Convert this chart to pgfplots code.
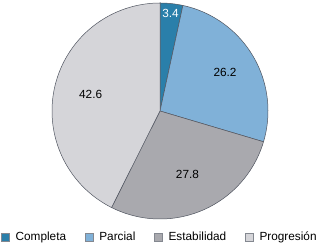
\documentclass[border=0pt]{standalone}
\usepackage{fontspec}
\setmainfont{Liberation Sans}
\usepackage{pgfplots}
\pgfplotsset{compat=1.18}
\definecolor{cA}{HTML}{2A7FAA}
\definecolor{cB}{HTML}{80B1D8}
\definecolor{cC}{HTML}{A9A9AE}
\definecolor{cD}{HTML}{D5D5D9}
\definecolor{edge}{HTML}{505560}
% values (percent)
\def\vA{3.4}\def\vB{26.2}\def\vC{27.8}\def\vD{42.6}
\pgfmathsetmacro\aA{90}
\pgfmathsetmacro\aB{\aA-3.6*\vA}
\pgfmathsetmacro\aC{\aB-3.6*\vB}
\pgfmathsetmacro\aD{\aC-3.6*\vC}
\pgfmathsetmacro\aE{\aD-3.6*\vD}
\pgfmathsetmacro\mA{(\aA+\aB)/2}
\pgfmathsetmacro\mB{(\aB+\aC)/2}
\pgfmathsetmacro\mC{(\aC+\aD)/2}
\pgfmathsetmacro\mD{(\aD+\aE)/2}
\def\cx{160}\def\cy{134}\def\R{108}
\begin{document}
\begin{tikzpicture}
\begin{axis}[
  x=1pt, y=1pt, anchor=origin, at={(0,0)},
  xmin=0, xmax=321, ymin=0, ymax=245,
  hide axis, clip=false,
  legend columns=4,
  legend style={at={(axis cs:159,8)}, anchor=center, draw=none, fill=none,
    font=\fontsize{11.8}{13}\selectfont, inner sep=0pt,
    /tikz/every odd column/.append style={column sep=6pt},
    /tikz/every even column/.append style={column sep=19pt},
    nodes={inner xsep=0pt}},
  legend image code/.code={\draw[#1, draw=edge!70, line width=0.4pt] (0pt,-3.9pt) rectangle (7.8pt,3.9pt);},
]
\addplot[fill=cA, draw=edge, line width=0.5pt, domain=\aB:\aA, samples=20]
  ({\cx+\R*cos(x)},{\cy+\R*sin(x)}) -- (axis cs:\cx,\cy) -- cycle;
\addlegendentry{Completa}
\addplot[fill=cB, draw=edge, line width=0.5pt, domain=\aC:\aB, samples=80]
  ({\cx+\R*cos(x)},{\cy+\R*sin(x)}) -- (axis cs:\cx,\cy) -- cycle;
\addlegendentry{Parcial}
\addplot[fill=cC, draw=edge, line width=0.5pt, domain=\aD:\aC, samples=80]
  ({\cx+\R*cos(x)},{\cy+\R*sin(x)}) -- (axis cs:\cx,\cy) -- cycle;
\addlegendentry{Estabilidad}
\addplot[fill=cD, draw=edge, line width=0.5pt, domain=\aE:\aD, samples=120]
  ({\cx+\R*cos(x)},{\cy+\R*sin(x)}) -- (axis cs:\cx,\cy) -- cycle;
\addlegendentry{Progresión}
\pgfmathsetmacro\lAx{\cx+0.91*\R*cos(\mA)}\pgfmathsetmacro\lAy{\cy+0.91*\R*sin(\mA)}
\pgfmathsetmacro\lBx{\cx+0.70*\R*cos(\mB)}\pgfmathsetmacro\lBy{\cy+0.70*\R*sin(\mB)}
\pgfmathsetmacro\lCx{\cx+0.64*\R*cos(\mC)}\pgfmathsetmacro\lCy{\cy+0.64*\R*sin(\mC)}
\pgfmathsetmacro\lDx{\cx+0.66*\R*cos(\mD)}\pgfmathsetmacro\lDy{\cy+0.66*\R*sin(\mD)}
\node[white, font=\fontsize{11.8}{13}\selectfont] at (axis cs:\lAx,\lAy) {\vA};
\node[font=\fontsize{11.8}{13}\selectfont] at (axis cs:\lBx,\lBy) {\vB};
\node[font=\fontsize{11.8}{13}\selectfont] at (axis cs:\lCx,\lCy) {\vC};
\node[font=\fontsize{11.8}{13}\selectfont] at (axis cs:\lDx,\lDy) {\vD};
\end{axis}
\useasboundingbox (0,0) rectangle (321pt,245pt);
\end{tikzpicture}
\end{document}
